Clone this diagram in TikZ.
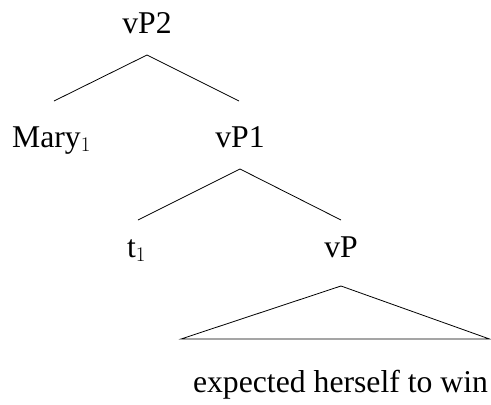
\documentclass[tikz,border=0pt]{standalone}
\usepackage{fontspec}
\setmainfont{Liberation Serif}
\usetikzlibrary{calc}
\begin{document}
\begin{tikzpicture}[x=1pt,y=-1pt,line width=0.8pt,font=\fontsize{31.7}{38}\selectfont,
    lbl/.style={inner sep=0pt,anchor=base}]
    \useasboundingbox (0,0) rectangle (491,405);
    %%%%%%%%%%%%%%%%%%%%%%%%%%%% nodes
    \node[lbl] (vptwo) at (147,33) {vP2};
    \node[lbl] (mary) at (51.5,147) {Mary$_1$};
    \node[lbl] (vpone) at (240,147) {vP1};
    \node[lbl] (trace) at (136.5,257) {t$_1$};
    \node[lbl] (vp) at (341,257) {vP};
    \node[lbl] (words) at (340.5,392) {expected herself to win};
    %%%%%%%%%%%%%%%%%%%%%%%%%%%% branches
    \foreach \m/\a/\d/\c/\e in {vptwo/22/mary/2.5/-46,vptwo/22/vpone/-1/-46,vpone/22/trace/1.5/-37,vpone/22/vp/0/-37}
    {
        \draw ($(\m.base)+(0,\a)$) -- ($(\d.base)+(\c,\e)$);
    }
    \draw ($(vp.base)+(0,29)$) -- ($(words.base)+(-159.5,-53)$) -- ($(words.base)+(149,-53)$) -- cycle;
\end{tikzpicture}
\end{document}
